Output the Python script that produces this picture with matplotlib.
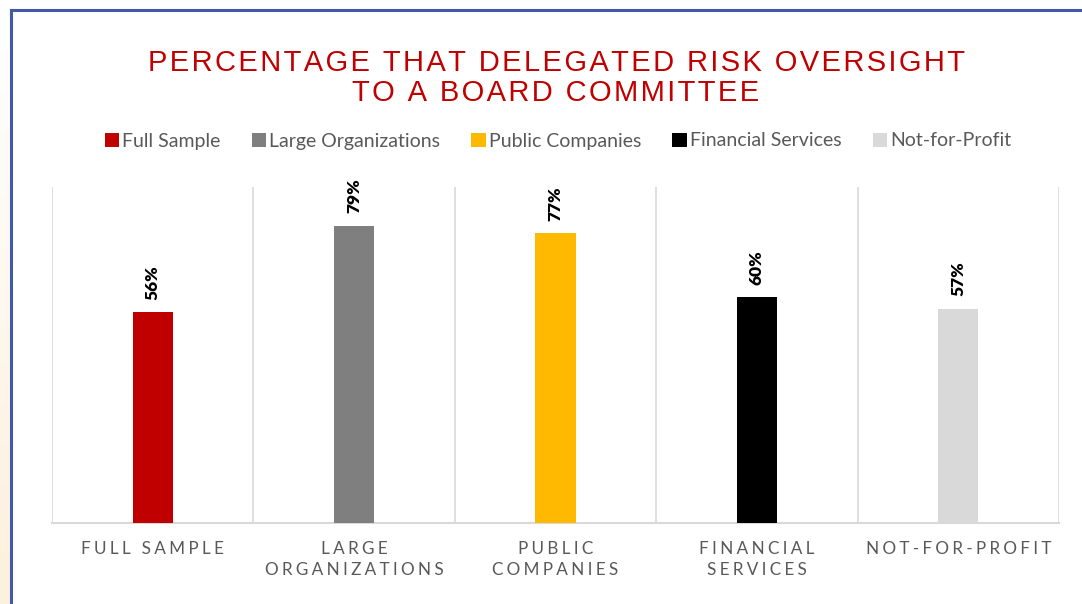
import matplotlib
matplotlib.use("Agg")
import matplotlib.pyplot as plt
import numpy as np
from matplotlib.patches import Patch
from matplotlib.lines import Line2D
from matplotlib.colors import LinearSegmentedColormap

categories = ["Full Sample", "Large Organizations", "Public Companies",
              "Financial Services", "Not-for-Profit"]
tick_labels = ["FULL SAMPLE", "LARGE\nORGANIZATIONS", "PUBLIC\nCOMPANIES",
               "FINANCIAL\nSERVICES", "NOT-FOR-PROFIT"]
values = [56, 79, 77, 60, 57]
colors = ["#C00000", "#7F7F7F", "#FFB900", "#000000", "#D9D9D9"]
title = "PERCENTAGE THAT DELEGATED RISK OVERSIGHT\nTO A BOARD COMMITTEE"

W, H = 1082, 604
fig = plt.figure(figsize=(W / 100, H / 100), dpi=100)
fig.patch.set_facecolor("white")

def spaced(s, sep="\u2009"):
    return "\n".join(sep.join(list(line)) for line in s.split("\n"))

# left beige gradient strip
bg = fig.add_axes([0, 0, 11 / W, 1 - 10 / H])
grad = np.linspace(0, 1, 256).reshape(-1, 1)
cm = LinearSegmentedColormap.from_list("bg", ["#FDF0DC", "#FFFFFF"])
bg.imshow(grad, aspect="auto", cmap=cm, origin="lower", extent=[0, 1, 0, 1])
bg.set_axis_off()

ax = fig.add_axes([52 / W, (H - 523) / H, (1059 - 52) / W, (523 - 187) / H])
x = np.arange(len(categories))
bars = ax.bar(x, values, width=0.2, color=colors, zorder=3)
ax.set_xlim(-0.5, len(categories) - 0.5)
ax.set_ylim(0, 89.3)
ax.set_yticks([])
ax.set_xticks(x)
ax.set_xticklabels([spaced(t, "\u2009\u200a") for t in tick_labels],
                   family=["Lato", "DejaVu Sans"], fontsize=12.3,
                   color="#595959", linespacing=1.4)
ax.tick_params(axis="x", length=0, pad=13)
ax.set_xticks(np.arange(-0.5, len(categories)), minor=True)
ax.tick_params(axis="x", which="minor", length=0)
ax.grid(True, which="minor", axis="x", color="#D9D9D9", lw=1.2)
ax.grid(False, which="major")
for s in ["left", "right", "top"]:
    ax.spines[s].set_visible(False)
ax.spines["bottom"].set_color("#D9D9D9")
ax.spines["bottom"].set_linewidth(1.5)
ax.set_facecolor("none")

for xi, v in zip(x, values):
    ax.annotate(f"{v}%", (xi, v), xytext=(0, 9), textcoords="offset points",
                rotation=90, ha="center", va="bottom", fontsize=12.5,
                fontweight="heavy", family=["Lato", "DejaVu Sans"], color="black")

fig.text(556 / W, 1 - 78 / H, spaced(title, "\u200a"), ha="center", va="center",
         fontsize=21, color="#C00000", family=["Liberation Sans", "DejaVu Sans"],
         linespacing=1.05)

handles = [Patch(facecolor=c, edgecolor="none") for c in colors]
leg = fig.legend(handles, categories, loc="center", bbox_to_anchor=(558 / W, 1 - 141 / H),
                 ncol=5, frameon=False, handlelength=0.75, handleheight=0.75,
                 handletextpad=0.15, columnspacing=1.6,
                 prop={"family": ["Lato", "DejaVu Sans"], "size": 14})
for t in leg.get_texts():
    t.set_color("#595959")

# blue frame lines
fig.add_artist(Line2D([11 / W, 11 / W], [0, 1 - 10 / H], transform=fig.transFigure,
                      color="#4458A8", lw=2.2))
fig.add_artist(Line2D([11 / W, 1], [1 - 10 / H, 1 - 10 / H], transform=fig.transFigure,
                      color="#4458A8", lw=2.2))

fig.savefig("out.png", dpi=100)
